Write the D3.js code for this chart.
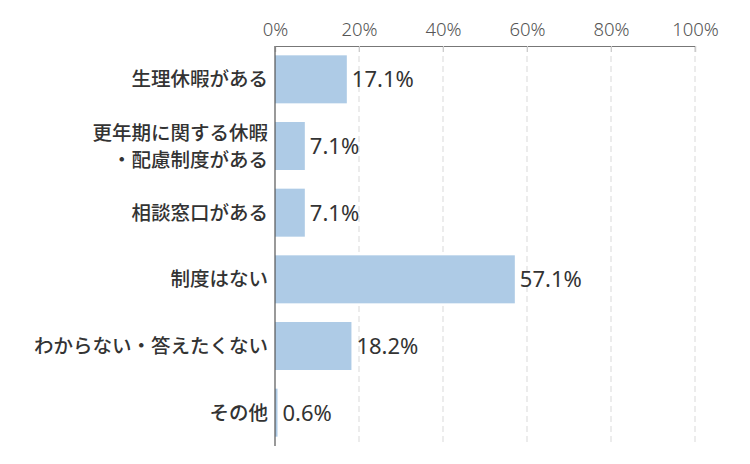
<!DOCTYPE html>
<html>
<head>
<meta charset="utf-8">
<script src="https://cdn.jsdelivr.net/npm/d3@7"></script>
<style>
  body { margin: 0; background: #fff; }
  text { font-family: "Noto Sans CJK JP", "Noto Sans", sans-serif; }
</style>
</head>
<body>
<div id="mainDiv"></div>
<script>
'use strict';

var categories = [
    ['生理休暇がある'],
    ['更年期に関する休暇', '・配慮制度がある'],
    ['相談窓口がある'],
    ['制度はない'],
    ['わからない・答えたくない'],
    ['その他']
];
var values = [17.1, 7.1, 7.1, 57.1, 18.2, 0.6];
var tickValues = [0, 20, 40, 60, 80, 100];

var chart = {};
chart.w = 750;
chart.h = 464;
chart.margins = {top: 46, left: 275, right: 55, bottom: 18};

chart.run = function()
{
    var svg = d3.select('#mainDiv').append('svg')
        .attr('width', chart.w)
        .attr('height', chart.h);

    var innerW = chart.w - chart.margins.left - chart.margins.right;
    var innerH = chart.h - chart.margins.top - chart.margins.bottom;

    var x = d3.scaleLinear().domain([0, 100]).range([0, innerW]);
    var y = d3.scaleBand()
        .domain(d3.range(categories.length))
        .range([0, innerH])
        .paddingInner(0.28)
        .paddingOuter(0.14);

    var g = svg.append('g')
        .attr('transform', 'translate(' + chart.margins.left + ',' + chart.margins.top + ')');

    // dashed grid
    g.selectAll('.grid')
        .data(tickValues.slice(1))
        .enter().append('line')
        .attr('x1', function(d){ return x(d); })
        .attr('x2', function(d){ return x(d); })
        .attr('y1', 0)
        .attr('y2', innerH)
        .attr('stroke', '#d9d9d9')
        .attr('stroke-dasharray', '6,4');

    // top axis
    var axis = d3.axisTop(x)
        .tickValues(tickValues)
        .tickSize(-6)
        .tickFormat(function(d){ return d + '%'; });

    var ax = g.append('g').call(axis);
    ax.select('.domain').attr('stroke', '#777').attr('stroke-width', 1.2);
    ax.selectAll('.tick line').attr('stroke', '#ccc');
    ax.selectAll('.tick text')
        .attr('y', -10)
        .attr('fill', '#555')
        .style('font-size', '18.5px')
        .style('font-family', '"Noto Sans", sans-serif')
        .style('font-weight', 300);

    // bars
    g.selectAll('.bar')
        .data(values)
        .enter().append('rect')
        .attr('x', 0)
        .attr('y', function(d, i){ return y(i); })
        .attr('width', function(d){ return x(d); })
        .attr('height', y.bandwidth())
        .attr('fill', '#aecbe6');

    // value labels
    g.selectAll('.val')
        .data(values)
        .enter().append('text')
        .attr('x', function(d){ return x(d) + 5; })
        .attr('y', function(d, i){ return y(i) + y.bandwidth() / 2; })
        .attr('dy', '0.36em')
        .attr('fill', '#333')
        .style('font-size', '22px')
        .style('font-family', '"Noto Sans", sans-serif')
        .text(function(d){ return d.toFixed(1) + '%'; });

    // left axis line
    g.append('line')
        .attr('x1', 0).attr('x2', 0)
        .attr('y1', 0).attr('y2', innerH)
        .attr('stroke', '#555')
        .attr('stroke-width', 1.2);

    // category labels
    var lab = g.selectAll('.cat')
        .data(categories)
        .enter().append('text')
        .attr('text-anchor', 'end')
        .attr('fill', '#333')
        .style('font-size', '19.5px')
        .style('font-weight', 500);

    lab.each(function(lines, i){
        var cy = y(i) + y.bandwidth() / 2;
        var lh = 27;
        var t = d3.select(this);
        lines.forEach(function(s, k){
            t.append('tspan')
                .attr('x', -7)
                .attr('y', cy + (k - (lines.length - 1) / 2) * lh)
                .attr('dy', '0.36em')
                .text(s);
        });
    });
}

window.onload = chart.run;
</script>
</body>
</html>
